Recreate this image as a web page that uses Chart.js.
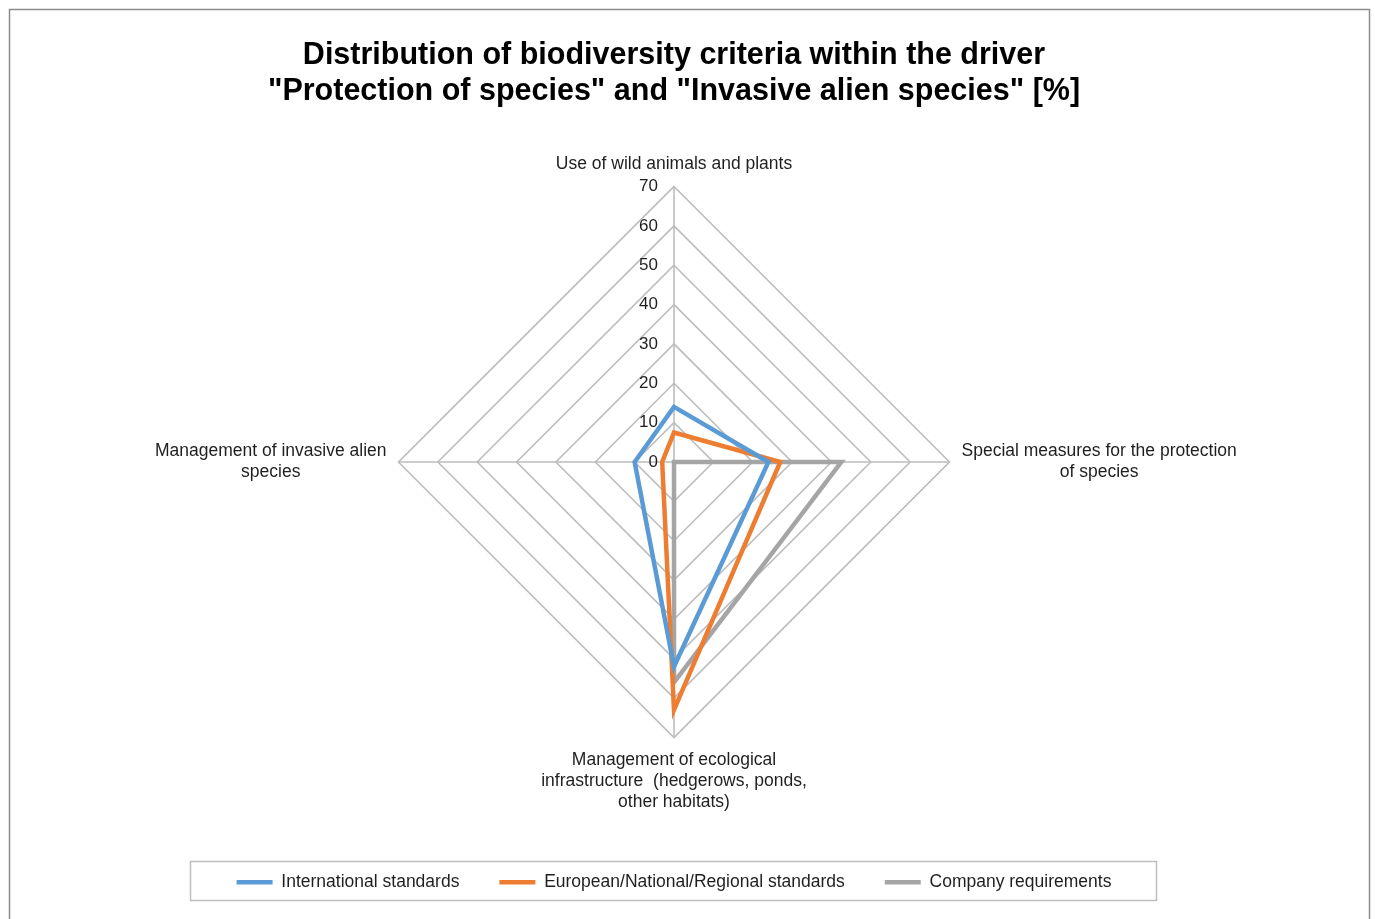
<!DOCTYPE html>
<html>
<head>
<meta charset="utf-8">
<style>
  html, body { margin: 0; padding: 0; background: #ffffff; }
  #wrap { width: 1375px; height: 919px; position: relative; }
  canvas { display: block; }
</style>
<script src="https://cdn.jsdelivr.net/npm/chart.js@4.4.1/dist/chart.umd.min.js"></script>
</head>
<body>
<div id="wrap"><canvas id="c" width="1375" height="919"></canvas></div>
<script>
const titleLines = ['Distribution of biodiversity criteria within the driver', '"Protection of species" and "Invasive alien species" [%]'];
const categories = [
  'Use of wild animals and plants',
  ['Special measures for the protection', 'of species'],
  ['Management of ecological', 'infrastructure  (hedgerows, ponds,', 'other habitats)'],
  ['Management of invasive alien', 'species']
];
const seriesNames = ['International standards', 'European/National/Regional standards', 'Company requirements'];
const internationalValues = [14, 24, 52, 10];
const europeanValues = [7.5, 27, 63, 3];
const companyValues = [0, 42.5, 56, 0];
const tickValues = [0, 10, 20, 30, 40, 50, 60, 70];
const colors = ['#5B9BD5', '#ED7D31', '#A5A5A5'];

const FONT = '"Liberation Sans", Arial, Helvetica, sans-serif';
const TEXT_COLOR = '#1f1f1f';

const framePlugin = {
  id: 'frame',
  beforeDraw(chart) {
    const ctx = chart.ctx;
    ctx.save();
    ctx.fillStyle = '#ffffff';
    ctx.fillRect(0, 0, chart.width, chart.height);
    ctx.strokeStyle = '#8c8c8c';
    ctx.lineWidth = 1.5;
    ctx.strokeRect(9.5, 9.5, 1360, 940);
    ctx.restore();
  }
};

const overlayPlugin = {
  id: 'overlay',
  afterDraw(chart) {
    const ctx = chart.ctx;
    const scale = chart.scales.r;
    ctx.save();
    ctx.font = '17px ' + FONT;
    ctx.fillStyle = TEXT_COLOR;
    ctx.textAlign = 'right';
    ctx.textBaseline = 'middle';
    tickValues.forEach(v => {
      const d = scale.getDistanceFromCenterForValue(v);
      ctx.fillText(String(v), scale.xCenter - 16, scale.yCenter - d);
    });
    const items = scale._pointLabelItems || [];
    ctx.font = '17.5px ' + FONT;
    ctx.textAlign = 'center';
    const lh = 21;
    items.forEach((it, i) => {
      const lab = categories[i];
      const lines = Array.isArray(lab) ? lab : [lab];
      const cx = (it.left + it.right) / 2;
      lines.forEach((ln, k) => {
        ctx.fillText(ln, cx, it.top + lh / 2 + k * lh);
      });
    });
    const lg = chart.legend;
    if (lg && lg.legendHitBoxes && lg.legendHitBoxes.length) {
      const hb = lg.legendHitBoxes;
      const x1 = Math.min(...hb.map(h => h.left)) - 47;
      const x2 = Math.max(...hb.map(h => h.left + h.width)) + 44;
      const cy = hb[0].top + hb[0].height / 2;
      ctx.strokeStyle = '#bfbfbf';
      ctx.lineWidth = 1.5;
      ctx.strokeRect(Math.round(x1) + 0.5, Math.round(cy - 21) + 0.5, Math.round(x2 - x1), 39);
    }
    ctx.restore();
  }
};

const seriesData = [internationalValues, europeanValues, companyValues];

new Chart(document.getElementById('c'), {
  type: 'radar',
  data: {
    labels: categories,
    datasets: seriesNames.map((name, i) => ({
      label: name,
      data: seriesData[i],
      borderColor: colors[i],
      backgroundColor: colors[i],
      borderWidth: 4.5,
      fill: false,
      pointRadius: 0,
      pointHoverRadius: 0,
      borderJoinStyle: 'miter',
      tension: 0
    }))
  },
  options: {
    responsive: false,
    animation: false,
    devicePixelRatio: 1,
    layout: { padding: { top: 37, bottom: 18, left: 10, right: 37 } },
    plugins: {
      title: {
        display: true,
        text: titleLines,
        color: '#000000',
        font: { family: FONT, size: 30.5, weight: 'bold', lineHeight: 1.2 },
        padding: { top: 0, bottom: 23 }
      },
      legend: {
        display: true,
        position: 'bottom',
        labels: {
          color: TEXT_COLOR,
          font: { family: FONT, size: 17.5 },
          usePointStyle: true,
          pointStyle: 'line',
          pointStyleWidth: 36,
          padding: 40
        }
      },
      tooltip: { enabled: false }
    },
    scales: {
      r: {
        min: 0,
        max: 70,
        startAngle: 0,
        ticks: { display: false, stepSize: 10 },
        grid: { color: '#bdbdbd', lineWidth: 1.6, circular: false },
        angleLines: { color: '#bdbdbd', lineWidth: 1.6 },
        pointLabels: {
          display: true,
          color: 'rgba(0,0,0,0)',
          padding: 12,
          font: { family: FONT, size: 17.5, lineHeight: 1.2 }
        }
      }
    }
  },
  plugins: [framePlugin, overlayPlugin]
});
</script>
</body>
</html>
